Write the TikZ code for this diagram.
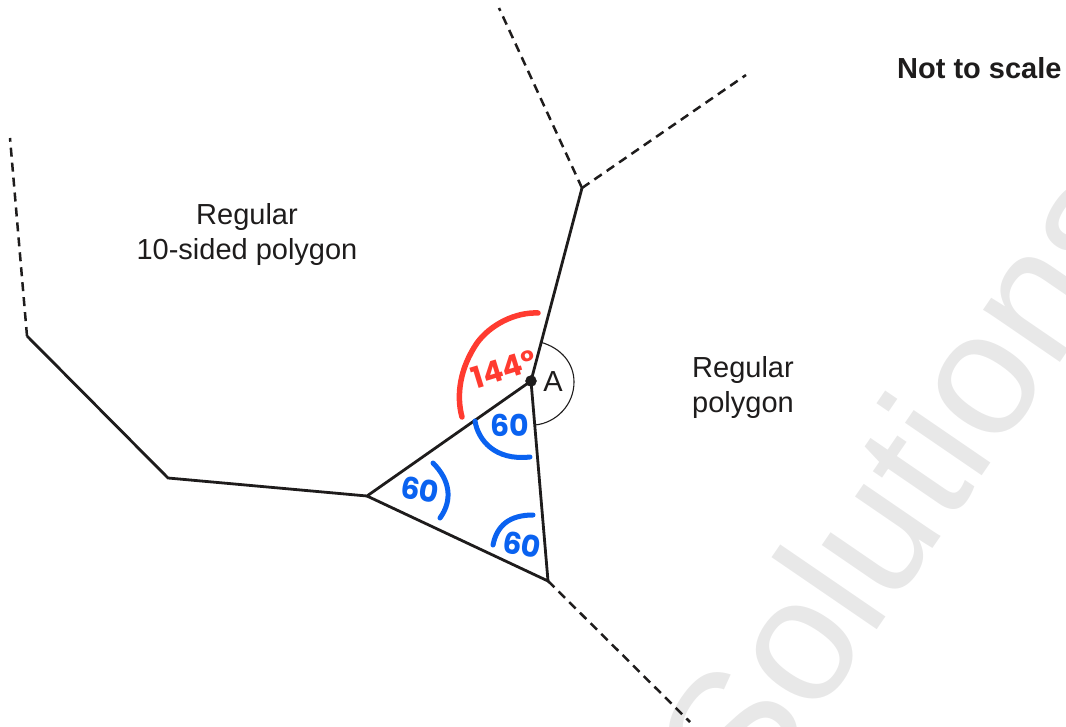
\documentclass[tikz,border=0pt]{standalone}
\usepackage{fontspec}
\setmainfont{Liberation Sans}
\newfontfamily\handfont{Poppins}
\definecolor{inkblack}{HTML}{1E1C1C}
\definecolor{markred}{HTML}{FF3B30}
\definecolor{markblue}{HTML}{0A62F0}
\definecolor{stamp}{HTML}{E8E8E8}
\tikzset{
	edge/.style={inkblack, line width=2.8pt},
	dashedge/.style={inkblack, line width=2.5pt, dash pattern=on 9pt off 6pt},
	label/.style={inkblack, font=\fontsize{29}{35}\selectfont, align=center, inner sep=0pt},
	redpen/.style={markred, line width=5.5pt, line cap=round, line join=round},
	bluepen/.style={markblue, line width=5pt, line cap=round, line join=round},
	redmark/.style={markred, inner sep=0pt, font=\fontsize{30}{30}\handfont\bfseries},
	bluemark/.style={markblue, inner sep=0pt, font=\fontsize{30}{30}\handfont\bfseries},
}
\begin{document}
\begin{tikzpicture}[x=1pt, y=-1pt]
	\useasboundingbox (0,0) rectangle (1066,727);
	% watermark
	\begin{scope}
		\clip (0,0) rectangle (1066,727);
		\node[stamp, rotate=55.6, anchor=base west, inner sep=0pt, font=\fontsize{176}{176}\selectfont] (wm) at (749,817) {Solutions};
	\end{scope}
	% corners of the polygons
	\coordinate (A) at (531,381);
	\coordinate (top) at (582,188);
	\coordinate (left) at (367,496);
	\coordinate (low) at (548,581);
	\coordinate (b) at (168,478);
	\coordinate (c) at (27,336);
	\coordinate (d) at (10,138);
	\coordinate (e) at (499,8);
	\coordinate (f) at (746,75);
	\coordinate (g) at (690,722);
	\draw[edge] (c) -- (b) -- (left) -- (A) -- (top);
	\draw[edge] (A) -- (low) -- (left);
	\draw[dashedge] (c) -- (d);
	\draw[dashedge] (top) -- (e);
	\draw[dashedge] (top) -- (f);
	\draw[dashedge] (low) -- (g);
	\draw[inkblack, line width=1.1pt] (540,342) .. controls (562,348) and (574,364) .. (574,382) .. controls (574,405) and (556,423) .. (535,425);
	\filldraw[inkblack] (A) circle[radius=5.5pt];
	% printed text
	\node[label] (ten) at (247,235) {Regular\\10-sided polygon};
	\node[label, align=left, anchor=west] (reg) at (692,387.5) {Regular\\polygon};
	\node[label] (nameA) at (553,382) {A};
	\node[label, anchor=west, font=\fontsize{29}{35}\selectfont\bfseries] (scale) at (897,68) {Not to scale};
	% working marks
	\draw[redpen] (462,417) .. controls (456,395) and (460,368) .. (477,343) .. controls (490,325) and (515,312) .. (538,313);
	\draw[bluepen] (475,421) .. controls (478,440) and (495,461) .. (530,457);
	\draw[bluepen] (433,463) .. controls (450,480) and (453,500) .. (440,518);
	\draw[bluepen] (493,545) .. controls (497,525) and (510,515) .. (533,515);
	\node[redmark, rotate=17] (mark144) at (504,369) {144°};
	\node[bluemark] (topsixty) at (510,425) {60};
	\node[bluemark, rotate=-10] (leftsixty) at (420,490) {60};
	\node[bluemark, rotate=-10] (lowsixty) at (522,545) {60};
\end{tikzpicture}
\end{document}
